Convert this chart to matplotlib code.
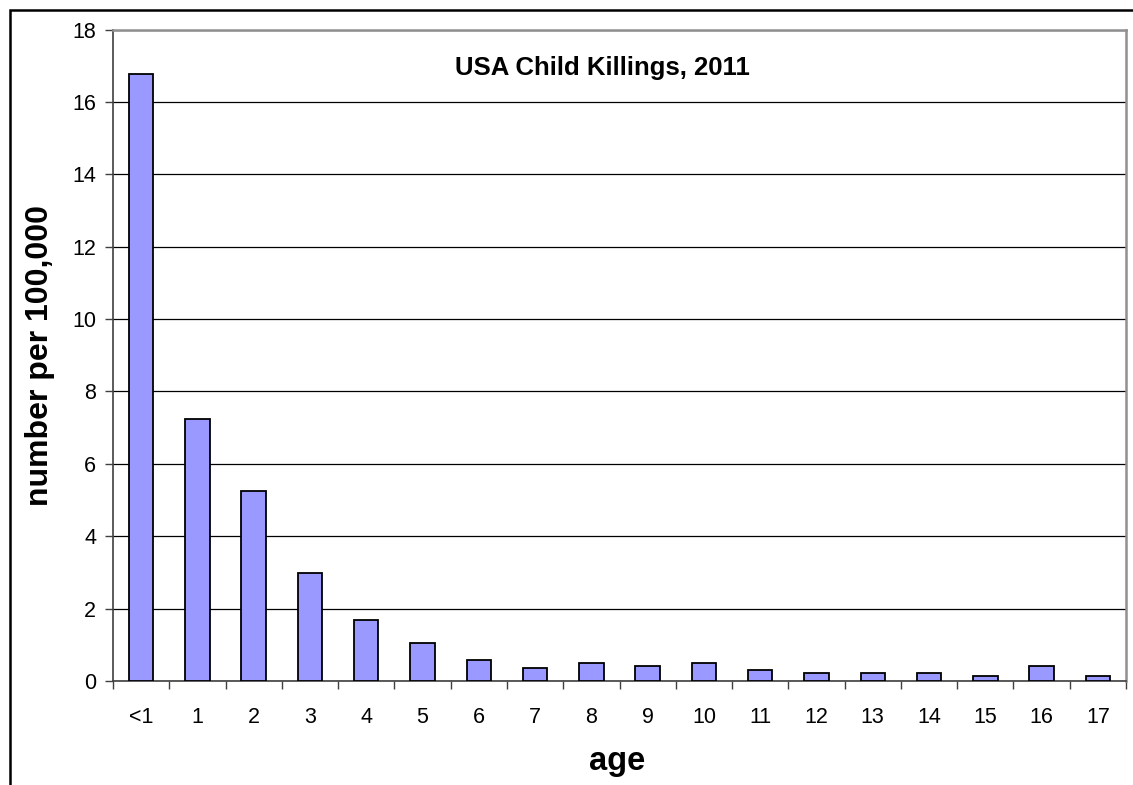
import matplotlib.pyplot as plt
import numpy as np
from matplotlib.patches import Rectangle

plt.rcParams['font.family'] = ['Liberation Sans', 'DejaVu Sans']

ages = ['<1', '1', '2', '3', '4', '5', '6', '7', '8', '9',
        '10', '11', '12', '13', '14', '15', '16', '17']
rate = [16.77, 7.24, 5.25, 2.99, 1.68, 1.04, 0.58, 0.36, 0.49, 0.41,
        0.49, 0.31, 0.22, 0.22, 0.22, 0.14, 0.41, 0.14]

fig = plt.figure(figsize=(11.33, 7.85), dpi=100)

# chart area border
fig.patches.append(Rectangle((10 / 1133, -0.05), 1.2, 0.05 + 775 / 785,
                             transform=fig.transFigure, fill=False,
                             edgecolor='black', linewidth=1.8))

ax = fig.add_axes([113 / 1133, 104 / 785, 1013 / 1133, 651.5 / 785])

x = np.arange(len(ages))
ax.bar(x, rate, width=0.435, color='#9999ff', edgecolor='black',
       linewidth=1.3, zorder=3)

ax.set_xlim(-0.5, len(ages) - 0.5)
ax.set_ylim(0, 18)
ax.set_yticks(np.arange(0, 19, 2))
ax.yaxis.grid(True, color='black', linewidth=0.9, zorder=0)

# category ticks sit between the bars
ax.set_xticks(np.arange(-0.5, len(ages) + 0.5, 1))
ax.set_xticklabels([])
ax.set_xticks(x, minor=True)
ax.set_xticklabels(ages, minor=True)
ax.tick_params(axis='x', which='minor', length=0, pad=19, labelsize=15.5)
ax.tick_params(axis='x', which='major', length=6, width=1, color='#404040')
ax.tick_params(axis='y', length=6, width=1, color='#404040', labelsize=15.5, pad=6)

for side in ['left', 'bottom']:
    ax.spines[side].set_color('#404040')
    ax.spines[side].set_linewidth(1.2)
for side in ['top', 'right']:
    ax.spines[side].set_color('#909090')
    ax.spines[side].set_linewidth(1.8)

ax.set_xlabel('age', fontsize=23.5, fontweight='bold', va='center')
ax.xaxis.set_label_coords(0.498, -0.124)
ax.set_ylabel('number per 100,000', fontsize=23, fontweight='bold', va='center')
ax.yaxis.set_label_coords(-0.072, 0.5)
ax.text(0.483, 0.941, 'USA Child Killings, 2011', transform=ax.transAxes,
        ha='center', va='center', fontsize=18.5, fontweight='bold')

plt.savefig('out.png', dpi=100)
